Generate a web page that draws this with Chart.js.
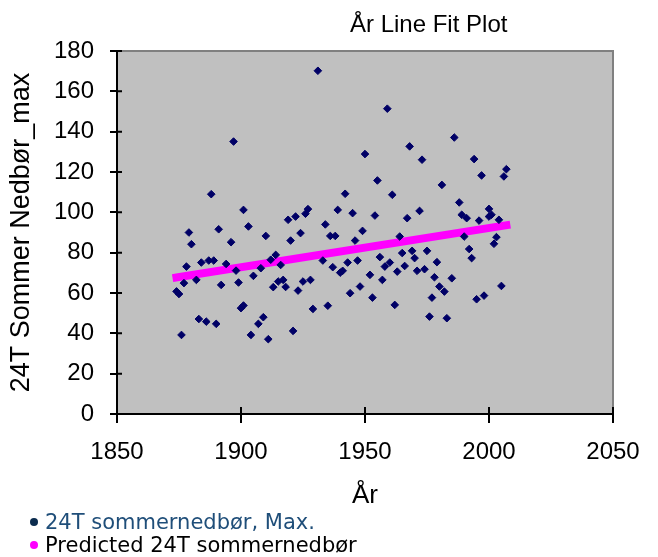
<!DOCTYPE html>
<html><head><meta charset="utf-8">
<script src="https://cdn.jsdelivr.net/npm/chart.js@4/dist/chart.umd.min.js"></script>
<style>
html,body{margin:0;padding:0;background:#fff;}
#wrap{position:relative;width:658px;height:557px;overflow:hidden;}
canvas{position:absolute;left:0;top:0;}
#title{position:absolute;left:350px;top:12px;font:24px "Liberation Sans",Arial,sans-serif;color:#000;white-space:nowrap;line-height:24px;}
.leg{position:absolute;left:30px;font:21px "DejaVu Sans",sans-serif;white-space:nowrap;line-height:23px;}
.dot{display:inline-block;width:8px;height:8px;border-radius:50%;margin-right:7px;vertical-align:middle;position:relative;top:-1px;}
</style></head>
<body><div id="wrap"><canvas id="c" width="658" height="557"></canvas>
<div id="title"></div>
<div class="leg" id="leg1" style="top:511px;"></div>
<div class="leg" id="leg2" style="top:534px;"></div>
</div>
<script>
const chartTitle = "År Line Fit Plot";
const xAxisTitle = "År";
const yAxisTitle = "24T Sommer Nedbør_max";
const seriesNames = ["24T sommernedbør, Max.", "Predicted 24T sommernedbør"];

const years = [1874,1875,1876,1877,1878,1879,1880,1882,1883,1884,1886,1887,1888,1889,1890,1891,1892,1894,1896,1897,1898,1899,1900,1901,1901,1903,1904,1905,1907,1908,1909,1910,1911,1912,1913,1914,1915,1916,1917,1918,1919,1920,1921,1922,1923,1924,1925,1926,1927,1928,1929,1931,1933,1934,1935,1936,1937,1938,1939,1940,1941,1942,1943,1944,1945,1946,1947,1948,1949,1950,1952,1953,1954,1955,1956,1957,1958,1959,1960,1961,1962,1963,1964,1965,1966,1967,1968,1969,1970,1971,1972,1973,1974,1975,1976,1977,1978,1979,1980,1981,1982,1983,1985,1986,1988,1989,1990,1991,1992,1993,1994,1995,1996,1997,1998,2000,2000,2001,2002,2003,2004,2005,2006,2007];
const rainMax = [60.8,59.5,39.2,64.9,73.1,90.0,84.2,66.5,47.1,75.1,45.8,76.1,109.0,76.1,44.7,91.6,64.0,74.4,85.2,135.1,71.1,65.2,52.5,53.8,101.2,93.0,39.2,68.5,44.7,72.3,48.0,88.3,37.1,76.5,62.9,78.9,65.7,73.9,66.5,63.0,96.3,86.0,41.2,97.9,61.2,89.7,65.7,99.3,101.6,66.5,52.1,170.2,76.1,94.0,53.7,88.3,72.8,88.3,101.2,70.1,71.0,109.2,75.1,59.9,99.6,86.0,76.1,63.2,90.8,128.9,69.0,57.7,98.4,115.8,77.8,66.5,73.1,151.4,75.1,108.7,54.1,70.6,88.0,79.8,73.4,97.1,132.7,80.9,77.3,71.0,100.7,126.1,71.8,80.9,48.3,57.7,67.8,75.3,63.2,113.6,60.7,47.5,67.3,137.1,104.9,98.8,88.0,97.1,81.8,77.3,126.4,56.9,95.9,118.3,58.7,97.9,101.7,98.8,84.4,87.7,96.3,63.5,117.8,121.4];
const fitYears = [1874, 2007];
const fitValues = [67.7, 93.6];
const xTicks = [1850, 1900, 1950, 2000, 2050];
const yTicks = [0, 20, 40, 60, 80, 100, 120, 140, 160, 180];

const pointColor = "#000066";
const fitColor = "#ff00ff";
const legendText = ["#1f4e79", "#000000"];
const legendDot = ["#0b2c4e", "#ff00ff"];

document.getElementById('title').textContent = chartTitle;
[0,1].forEach(i => {
  const el = document.getElementById('leg' + (i+1));
  el.style.color = legendText[i];
  const d = document.createElement('span');
  d.className = 'dot'; d.style.background = legendDot[i];
  el.appendChild(d);
  el.appendChild(document.createTextNode(seriesNames[i]));
});

const bgPlugin = {
  id: 'bg',
  beforeDraw(chart) {
    const {ctx, chartArea: a} = chart;
    ctx.save();
    ctx.fillStyle = '#c0c0c0';
    ctx.fillRect(a.left, a.top, a.right - a.left, a.bottom - a.top);
    ctx.restore();
  },
  afterDraw(chart) {
    const {ctx, chartArea: a, scales} = chart;
    ctx.save();
    ctx.strokeStyle = '#808080';
    ctx.lineWidth = 2;
    ctx.beginPath();
    ctx.moveTo(a.left, a.top); ctx.lineTo(a.right, a.top); ctx.lineTo(a.right, a.bottom);
    ctx.stroke();
    ctx.strokeStyle = '#000';
    ctx.lineWidth = 2;
    ctx.beginPath();
    scales.x.ticks.forEach(t => {
      const px = scales.x.getPixelForValue(t.value);
      ctx.moveTo(px, a.bottom); ctx.lineTo(px, a.bottom - 7);
    });
    scales.y.ticks.forEach(t => {
      const py = scales.y.getPixelForValue(t.value);
      ctx.moveTo(a.left, py); ctx.lineTo(a.left + 5, py);
    });
    ctx.stroke();
    ctx.restore();
  }
};

const pts = years.map((y, i) => ({x: y, y: rainMax[i]}));
const fit = fitYears.map((y, i) => ({x: y, y: fitValues[i]}));

new Chart(document.getElementById('c'), {
  type: 'scatter',
  data: {
    datasets: [
      {label: seriesNames[0], data: pts, pointStyle: 'rectRot', pointRadius: 3.8,
       backgroundColor: pointColor, borderColor: pointColor, borderWidth: 1, showLine: false},
      {label: seriesNames[1], data: fit, showLine: true, pointRadius: 0,
       borderColor: fitColor, backgroundColor: fitColor, borderWidth: 8, borderCapStyle: 'square'}
    ]
  },
  options: {
    responsive: false,
    animation: false,
    devicePixelRatio: 1,
    layout: {padding: {top: 51, right: 45, bottom: 0, left: 0}},
    plugins: {legend: {display: false}, title: {display: false}, tooltip: {enabled: false}},
    scales: {
      x: {
        type: 'linear', min: 1850, max: 2050,
        afterBuildTicks: s => { s.ticks = xTicks.map(v => ({value: v})); },
        afterFit: s => { s.height = 143; },
        ticks: {font: {family: 'Liberation Sans', size: 24}, color: '#000', padding: 15, maxRotation: 0,
                callback: v => String(v)},
        grid: {drawOnChartArea: false, tickLength: 9, color: '#000', lineWidth: 2},
        border: {color: '#000', width: 2},
        title: {display: true, text: xAxisTitle, font: {family: 'Liberation Sans', size: 26}, color: '#000', padding: {top: 0, bottom: 46}}
      },
      y: {
        min: 0, max: 180,
        afterBuildTicks: s => { s.ticks = yTicks.map(v => ({value: v})); },
        afterFit: s => { s.width = 117; },
        ticks: {font: {family: 'Liberation Sans', size: 24}, color: '#000', padding: 16, callback: v => String(v)},
        grid: {drawOnChartArea: false, tickLength: 7, color: '#000', lineWidth: 2},
        border: {color: '#000', width: 2},
        title: {display: true, text: yAxisTitle, font: {family: 'Liberation Sans', size: 27}, color: '#000', padding: {top: 5, bottom: 0}}
      }
    }
  },
  plugins: [bgPlugin]
});
</script>
</body></html>
